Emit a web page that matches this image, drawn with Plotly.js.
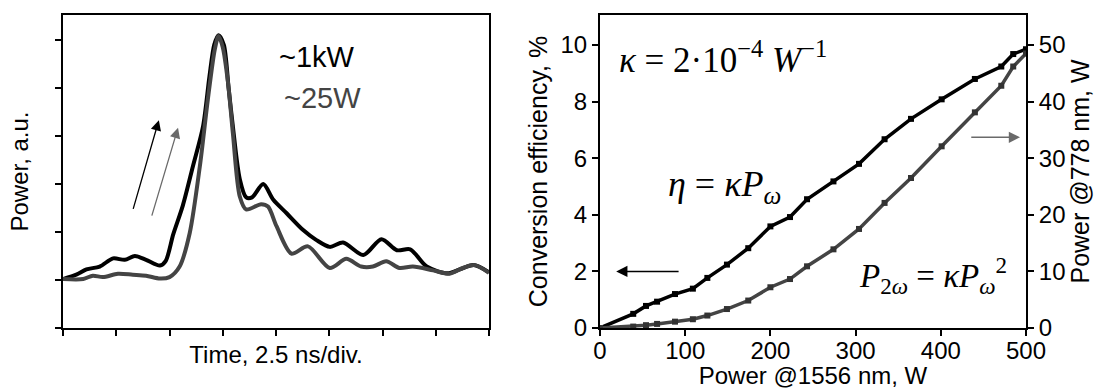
<!DOCTYPE html>
<html><head><meta charset="utf-8">
<script src="https://cdn.plot.ly/plotly-3.0.1.min.js"></script>
<style>html,body{margin:0;padding:0;background:#fff}#chart{width:1097px;height:389px}</style>
</head><body><div id="chart"></div>
<script>
// Left panel: pulse traces (time in divisions, power a.u.)
const timeHigh = [0, 0.25, 0.44, 0.69, 0.94, 1.16, 1.35, 1.56, 1.82, 1.93, 2.07, 2.25, 2.44, 2.63, 2.75, 2.84, 2.92, 3.02, 3.11, 3.19, 3.32, 3.44, 3.55, 3.76, 3.95, 4.2, 4.51, 4.76, 5.01, 5.26, 5.64, 5.98, 6.27, 6.52, 6.83, 7.22, 7.45, 7.71, 8.0];
const powerHigh = [1.02, 1.11, 1.22, 1.28, 1.45, 1.42, 1.5, 1.42, 1.3, 1.4, 1.95, 2.55, 3.37, 4.2, 5.24, 5.9, 6.1, 5.9, 5.0, 4.2, 3.1, 2.72, 2.72, 3.0, 2.67, 2.39, 2.04, 1.83, 1.69, 1.78, 1.52, 1.85, 1.62, 1.64, 1.28, 1.14, 1.22, 1.31, 1.16];
const timeLow = [0, 0.38, 0.56, 0.75, 1.03, 1.31, 1.56, 1.82, 2.0, 2.19, 2.38, 2.57, 2.72, 2.85, 2.92, 3.0, 3.1, 3.19, 3.32, 3.44, 3.72, 3.85, 4.01, 4.29, 4.6, 5.01, 5.32, 5.6, 5.82, 6.07, 6.32, 6.57, 6.95, 7.26, 7.51, 7.73, 8.0];
const powerLow = [1.02, 1.02, 1.09, 1.06, 1.13, 1.11, 1.09, 1.03, 1.06, 1.28, 1.98, 3.37, 4.76, 5.8, 6.08, 5.85, 5.1, 4.06, 2.74, 2.47, 2.58, 2.53, 2.12, 1.55, 1.7, 1.25, 1.44, 1.28, 1.28, 1.39, 1.25, 1.28, 1.2, 1.13, 1.25, 1.31, 1.15];

// Right panel: conversion efficiency and SH power vs pump power
const pumpPower = [0, 39, 54, 67, 88, 109, 126, 149, 174, 200, 223, 243, 274, 304, 334, 365, 401, 440, 471, 485, 500];
const efficiency = [0, 0.5, 0.78, 0.93, 1.2, 1.39, 1.77, 2.24, 2.82, 3.59, 3.92, 4.55, 5.18, 5.8, 6.67, 7.39, 8.08, 8.8, 9.24, 9.68, 9.85];
const shPower = [0, 0.25, 0.5, 0.72, 1.12, 1.55, 2.2, 3.35, 4.85, 7.2, 8.65, 10.9, 13.9, 17.5, 22.1, 26.5, 32.1, 38.1, 42.8, 46.2, 48.5];

const W = 1097, H = 389;
const black = '#000000', gray = '#444444', arrowGray = '#6a6a6a';
const sans = 'Liberation Sans, Arial, sans-serif';
const serif = 'Liberation Serif, Times New Roman, serif';

const traces = [
  {x: timeHigh, y: powerHigh, xaxis: 'x', yaxis: 'y', mode: 'lines', line: {color: black, width: 4, shape: 'spline', smoothing: 0.8}, name: '~1kW'},
  {x: timeLow, y: powerLow, xaxis: 'x', yaxis: 'y', mode: 'lines', line: {color: gray, width: 4, shape: 'spline', smoothing: 0.8}, name: '~25W'},
  {x: pumpPower, y: efficiency, xaxis: 'x2', yaxis: 'y2', mode: 'lines+markers', line: {color: black, width: 3.5}, marker: {symbol: 'square', size: 6, color: black}, name: 'η'},
  {x: pumpPower, y: shPower, xaxis: 'x2', yaxis: 'y3', mode: 'lines+markers', line: {color: gray, width: 3.5}, marker: {symbol: 'square', size: 6, color: '#333333'}, name: 'P2ω'}
];

const axBase = {showgrid: false, zeroline: false, showline: true, linewidth: 2, linecolor: black, ticks: 'outside', ticklen: 6, tickwidth: 2, tickcolor: black, automargin: false, tickfont: {family: sans, size: 24, color: black}};
const yDom = [1 - 328 / H, 1 - 15 / H];

const layout = {
  width: W, height: H, margin: {l: 0, r: 0, t: 0, b: 0}, showlegend: false,
  paper_bgcolor: '#fff', plot_bgcolor: '#fff',
  font: {family: sans, size: 24, color: black},
  xaxis: Object.assign({}, axBase, {domain: [63 / W, 489 / W], range: [0, 8], tick0: 0, dtick: 1, showticklabels: false, mirror: true, anchor: 'y',
    title: {text: 'Time, 2.5 ns/div.', font: {family: sans, size: 24}, standoff: 11}}),
  yaxis: Object.assign({}, axBase, {domain: yDom, range: [0, 6.52], tick0: 0, dtick: 1, showticklabels: false, mirror: true, anchor: 'x',
    title: {text: 'Power, a.u.', font: {family: sans, size: 24}, standoff: 20}}),
  xaxis2: Object.assign({}, axBase, {domain: [600 / W, 1026 / W], range: [0, 500], tick0: 0, dtick: 100, mirror: true, anchor: 'y2', ticklabelstandoff: -6,
    title: {text: 'Power @1556 nm, W', font: {family: sans, size: 24}, standoff: 4}}),
  yaxis2: Object.assign({}, axBase, {domain: yDom, range: [0, 11.06], tick0: 0, dtick: 2, anchor: 'x2',
    title: {text: 'Conversion efficiency, %', font: {family: sans, size: 25}, standoff: 6}}),
  yaxis3: Object.assign({}, axBase, {domain: yDom, range: [0, 55.3], tick0: 0, dtick: 10, anchor: 'x2', overlaying: 'y2', side: 'right',
    title: {text: 'Power @778 nm, W', font: {family: sans, size: 25}, standoff: 6}}),
  annotations: [
    {xref: 'x', yref: 'y', x: 4.02, y: 5.65, xanchor: 'left', yanchor: 'middle', text: '~1kW', showarrow: false, font: {family: sans, size: 29, color: black}},
    {xref: 'x', yref: 'y', x: 4.11, y: 4.79, xanchor: 'left', yanchor: 'middle', text: '~25W', showarrow: false, font: {family: sans, size: 29, color: gray}},
    {xref: 'x', yref: 'y', axref: 'x', ayref: 'y', x: 1.80, y: 4.33, ax: 1.31, ay: 2.45, text: '', showarrow: true, arrowhead: 2, arrowsize: 1.6, arrowwidth: 1.3, arrowcolor: black, standoff: 0},
    {xref: 'x', yref: 'y', axref: 'x', ayref: 'y', x: 2.16, y: 4.17, ax: 1.66, ay: 2.31, text: '', showarrow: true, arrowhead: 2, arrowsize: 1.6, arrowwidth: 1.3, arrowcolor: arrowGray, standoff: 0},
    {xref: 'x2', yref: 'y2', x: 20, y: 9.55, xanchor: 'left', yanchor: 'middle', text: '<i>κ</i> = 2·10<sup>−4</sup> <i>W</i><sup>−1</sup>', showarrow: false, font: {family: serif, size: 35, color: black}},
    {xref: 'x2', yref: 'y2', x: 78, y: 5.0, xanchor: 'left', yanchor: 'middle', text: '<i>η</i> = <i>κP</i><sub><i>ω</i></sub>', showarrow: false, font: {family: serif, size: 36, color: black}},
    {xref: 'x2', yref: 'y2', x: 302, y: 1.85, xanchor: 'left', yanchor: 'middle', text: '<i>P</i><sub>2<i>ω</i></sub> = <i>κP</i><sub><i>ω</i></sub><sup>2</sup>', showarrow: false, font: {family: serif, size: 33, color: black}},
    {xref: 'x2', yref: 'y2', axref: 'x2', ayref: 'y2', x: 19, y: 2, ax: 94, ay: 2, text: '', showarrow: true, arrowhead: 2, arrowsize: 1.5, arrowwidth: 1.5, arrowcolor: black, standoff: 0},
    {xref: 'x2', yref: 'y2', axref: 'x2', ayref: 'y2', x: 493, y: 6.74, ax: 434, ay: 6.74, text: '', showarrow: true, arrowhead: 2, arrowsize: 1.5, arrowwidth: 1.5, arrowcolor: arrowGray, standoff: 0}
  ]
};

Plotly.newPlot('chart', traces, layout, {displayModeBar: false, staticPlot: true});
</script>
</body></html>
